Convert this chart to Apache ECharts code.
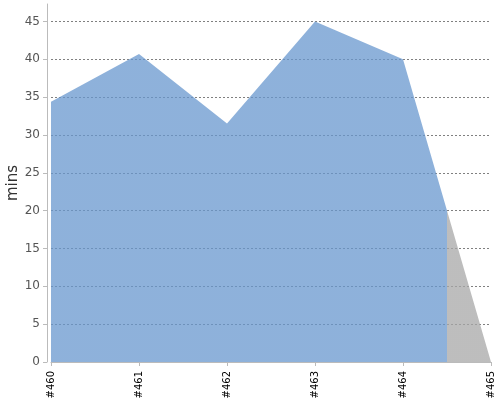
<!DOCTYPE html>
<html>
<head>
<meta charset="utf-8">
<script src="https://cdn.jsdelivr.net/npm/echarts@6/dist/echarts.min.js"></script>
<style>html,body{margin:0;padding:0;background:#fff}#c{width:500px;height:400px}</style>
</head>
<body>
<div id="c"></div>
<script>
var categories = ['#460', '#461', '#462', '#463', '#464', '#465'];
var minutes = [34.4, 40.7, 31.5, 45, 40, 0];
var splitPoint = 4.5;
var yMin = 0;
var yMax = 47.3;
var yTickValues = [0, 5, 10, 15, 20, 25, 30, 35, 40, 45];

var blue = 'rgb(104,151,206)';
var gray = 'rgb(167,167,167)';
var gridColor = '#808080';
var splitColors = yTickValues.map(function (v, i) { return i === 0 ? 'transparent' : gridColor; });
splitColors.push('transparent');

var splitOffset = splitPoint / (categories.length - 1);
var areaFill = new echarts.graphic.LinearGradient(0, 0, 1, 0, [
  { offset: 0, color: blue },
  { offset: splitOffset, color: blue },
  { offset: splitOffset, color: gray },
  { offset: 1, color: gray }
]);

var chart = echarts.init(document.getElementById('c'), null, { renderer: 'canvas' });
chart.setOption({
  animation: false,
  textStyle: { fontFamily: 'DejaVu Sans' },
  grid: { left: 51, right: 9, top: 4, bottom: 38, containLabel: false, outerBoundsMode: 'none' },
  xAxis: {
    type: 'category',
    data: categories,
    boundaryGap: false,
    offset: 4,
    axisLine: { lineStyle: { color: '#bbbbbb', width: 1 } },
    axisTick: { show: true, length: 4, alignWithLabel: true, lineStyle: { color: '#bbbbbb' } },
    axisLabel: { rotate: 90, margin: 5, fontSize: 10, color: '#000', fontFamily: 'DejaVu Sans' },
    splitLine: { show: false }
  },
  yAxis: {
    type: 'value',
    min: yMin,
    max: yMax,
    offset: 4,
    name: 'mins',
    nameLocation: 'middle',
    nameGap: 26,
    nameMoveOverlap: false,
    nameTextStyle: { fontSize: 15, color: '#333', fontFamily: 'DejaVu Sans' },
    axisLine: { show: true, lineStyle: { color: '#bbbbbb', width: 1 } },
    axisTick: { show: true, length: 4, customValues: yTickValues, lineStyle: { color: '#bbbbbb' } },
    axisLabel: { fontSize: 12, color: '#555', margin: 7, customValues: yTickValues, fontFamily: 'DejaVu Sans' },
    splitLine: { show: true, lineStyle: { color: splitColors, type: [2, 2], width: 1 } }
  },
  series: [{
    type: 'line',
    data: minutes,
    showSymbol: false,
    symbol: 'none',
    lineStyle: { width: 0, color: blue },
    itemStyle: { color: blue },
    areaStyle: { opacity: 0.75, color: areaFill },
    silent: true
  }]
});
</script>
</body>
</html>
